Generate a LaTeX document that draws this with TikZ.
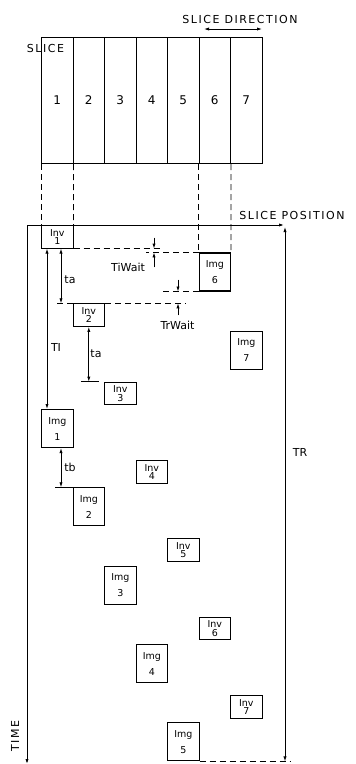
\documentclass[tikz,border=0pt]{standalone}
\usepackage{fontspec}
\setmainfont{DejaVu Sans}
\newfontfamily\capsfont[LetterSpace=14]{DejaVu Sans}
\usetikzlibrary{arrows.meta,calc}

\tikzset{
  slicecol/.style={draw, line width=1pt, minimum width=31.5pt, minimum height=126pt, inner sep=0pt, anchor=north west, font=\fontsize{12}{12}\selectfont},
  invbox/.style={draw, line width=1.1pt, minimum width=31.5pt, minimum height=22.5pt, inner sep=0pt, anchor=north west, align=center, font=\fontsize{9.5}{8.5}\selectfont},
  imgbox/.style={draw, line width=1.1pt, minimum width=31.5pt, minimum height=38pt, inner sep=0pt, anchor=north west, align=center, font=\fontsize{9.5}{16}\selectfont},
  dimline/.style={{Latex[length=5pt,width=3.2pt]}-{Latex[length=5pt,width=3.2pt]}, line width=0.8pt},
  tipline/.style={-{Latex[length=5pt,width=3.2pt]}, line width=0.8pt},
  guide/.style={dash pattern=on 6pt off 4pt, line width=0.8pt},
  lbl/.style={font=\fontsize{11}{11}\selectfont, inner sep=0pt},
  caplbl/.style={font=\capsfont\fontsize{11}{11}\selectfont, inner sep=0pt},
}

\begin{document}
\begin{tikzpicture}[x=1pt,y=1pt,yscale=-1]
	\useasboundingbox (0,0) rectangle (356,764);
	
	% Slices
	\node[slicecol] (s1) at (41,37) {1};
	\node[slicecol] (s2) at (72.5,37) {2};
	\node[slicecol] (s3) at (104,37) {3};
	\node[slicecol] (s4) at (135.5,37) {4};
	\node[slicecol] (s5) at (167,37) {5};
	\node[slicecol] (s6) at (198.5,37) {6};
	\node[slicecol] (s7) at (230,37) {7};
	
	% Text Node
	\node[caplbl] (slicelbl) at (45.5,48) {SLICE};
	% Text Node
	\node[caplbl] (dirlbl) at (240,19.5) {SLICE DIRECTION};
	\coordinate (dira) at (204,29);
	\coordinate (dirb) at (262,29);
	\draw[dimline] (dira) -- (dirb);
	
	% Inversion boxes
	\node[invbox] (inv1) at (41,225) {Inv\\1};
	\node[invbox] (inv2) at (72.5,303.3) {Inv\\2};
	\node[invbox] (inv3) at (104,381.7) {Inv\\3};
	\node[invbox] (inv4) at (135.5,460) {Inv\\4};
	\node[invbox] (inv5) at (167,538.3) {Inv\\5};
	\node[invbox] (inv6) at (198.5,616.7) {Inv\\6};
	\node[invbox] (inv7) at (230,695) {Inv\\7};
	
	% Imaging boxes
	\node[imgbox] (img1) at (41,409) {Img\\1};
	\node[imgbox] (img2) at (72.5,487.3) {Img\\2};
	\node[imgbox] (img3) at (104,565.7) {Img\\3};
	\node[imgbox] (img4) at (135.5,644) {Img\\4};
	\node[imgbox] (img5) at (167,722.3) {Img\\5};
	\node[imgbox] (img6) at (198.5,252.4) {Img\\6};
	\node[imgbox] (img7) at (230,330.7) {Img\\7};
	
	% Dashed guides from slices
	\draw[guide] (s1.south west) -- (inv1.north west);
	\draw[guide] (s1.south east) -- (inv1.north east);
	\draw[guide] (s6.south west) -- (img6.north west);
	\draw[guide] (s6.south east) -- (img6.north east);
	
	% Axes
	\coordinate (origin) at (27,225);
	\coordinate (posend) at (284,225);
	\coordinate (timeend) at (27,764);
	\draw[tipline, line width=0.9pt] (origin) -- (posend);
	\draw[tipline, line width=0.9pt] (origin) -- (timeend);
	% Text Node
	\node[caplbl] (poslbl) at (292,215) {SLICE POSITION};
	% Text Node
	\node[caplbl, rotate=90] (timelbl) at (15,736) {TIME};
	
	% TR
	\coordinate (trX) at (285,227);
	\draw[dimline] (trX) -- (trX |- img5.south);
	\draw[guide] (img5.south east) -- ($(trX |- img5.south)+(5,0)$);
	\node[lbl] (trlbl) at (300,452) {TR};
	
	% TI
	\coordinate (tiX) at (47,0);
	\draw[dimline] (tiX |- inv1.south) -- (tiX |- img1.north);
	\node[lbl] (tilbl) at (56,347) {TI};
	
	% ta (first)
	\coordinate (taX) at (61,0);
	\draw[dimline] (taX |- inv1.south) -- (taX |- inv2.north);
	\draw[guide] (inv2.north west) -- ++(-18,0);
	\draw[guide] (inv2.north east) -- ++(81,0);
	\node[lbl] (ta1lbl) at (70,280) {ta};
	
	% ta (second)
	\draw[dimline] (inv2.south) -- (inv2.south |- inv3.north);
	\draw[line width=0.8pt] ($(inv2.south |- inv3.north)+(-8,0)$) -- ($(inv2.south |- inv3.north)+(10,0)$);
	\node[lbl] (ta2lbl) at (96,354) {ta};
	
	% tb
	\draw[dimline] (taX |- img1.south) -- (taX |- img2.north);
	\draw[line width=0.8pt] (img2.north west) -- ++(-18,0);
	\node[lbl] (tblbl) at (70,467) {tb};
	
	% TiWait
	\coordinate (tiwX) at (154,0);
	\draw[guide] (inv1.south east) -- ++(89,0);
	\draw[guide] (img6.north west) -- ++(-53,0);
	\draw[tipline] ($(tiwX |- inv1.south)+(0,-11)$) -- (tiwX |- inv1.south);
	\draw[tipline] ($(tiwX |- img6.north)+(0,15)$) -- (tiwX |- img6.north);
	\node[lbl] (tiwlbl) at (128,267) {TiWait};
	
	% TrWait
	\coordinate (trwX) at (178,0);
	\draw[guide] (img6.south west) -- ++(-38,0);
	\draw[tipline] ($(trwX |- img6.south)+(0,-12)$) -- (trwX |- img6.south);
	\draw[tipline] ($(trwX |- inv2.north)+(0,12)$) -- (trwX |- inv2.north);
	\node[lbl] (trwlbl) at (177.5,325) {TrWait};
	
\end{tikzpicture}
\end{document}
